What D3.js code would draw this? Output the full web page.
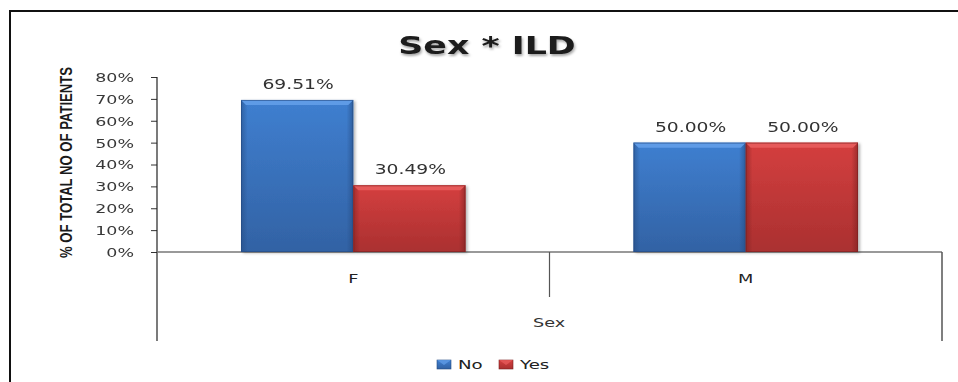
<!DOCTYPE html>
<html>
<head>
<meta charset="utf-8">
<script src="https://cdn.jsdelivr.net/npm/d3@7"></script>
<style>
  html, body { margin: 0; padding: 0; background: #fff; }
  svg { display: block; }
</style>
</head>
<body>
<svg id="chart" width="958" height="382"></svg>
<script>
// Chart data
const categories = ["F", "M"];
const seriesNames = ["No", "Yes"];
const noValues = [69.51, 50.00];
const yesValues = [30.49, 50.00];
const yTicks = [0, 10, 20, 30, 40, 50, 60, 70, 80];
const chartTitle = "Sex * ILD";
const xTitle = "Sex";
const yTitle = "% OF TOTAL NO OF PATIENTS";

const values = { No: noValues, Yes: yesValues };
const palette = {
  No:  { light: "#5f9be6", mid: "#3f7fd0", dark: "#3262a4", edge: "#244a80" },
  Yes: { light: "#e65a5a", mid: "#d43f3f", dark: "#aa3030", edge: "#7a2020" }
};

const svg = d3.select("#chart");
const W = 958, H = 382;
const sans = "'DejaVu Sans', Verdana, sans-serif";
// the whole chart is drawn with horizontally widened lettering
const STRETCH = 1.42;

// place a text element at (x, y) and widen its glyphs horizontally
function placeWide(sel, x, y, extra = "") {
  sel.attr("x", 0).attr("y", 0)
    .attr("transform", (d, i, n) => {
      const px = typeof x === "function" ? x(d, i, n) : x;
      const py = typeof y === "function" ? y(d, i, n) : y;
      return `translate(${px},${py}) scale(${STRETCH},1)${extra}`;
    });
  return sel;
}

// plot area
const plot = { left: 157, right: 942, top: 77, bottom: 252 };

const x0 = d3.scaleBand().domain(categories).range([plot.left, plot.right]).paddingInner(0).paddingOuter(0);
const groupPad = 0.214;
const x1 = d3.scaleBand().domain(seriesNames)
  .range([x0.bandwidth() * groupPad, x0.bandwidth() * (1 - groupPad)]).padding(0);
const y = d3.scaleLinear().domain([0, 80]).range([plot.bottom, plot.top]);

const defs = svg.append("defs");
seriesNames.forEach(s => {
  const c = palette[s];
  const g = defs.append("linearGradient").attr("id", "grad-" + s)
    .attr("x1", 0).attr("y1", 0).attr("x2", 0).attr("y2", 1);
  g.append("stop").attr("offset", "0%").attr("stop-color", c.mid);
  g.append("stop").attr("offset", "100%").attr("stop-color", c.dark);
  const h = defs.append("linearGradient").attr("id", "side-" + s)
    .attr("x1", 0).attr("y1", 0).attr("x2", 1).attr("y2", 0);
  h.append("stop").attr("offset", "0%").attr("stop-color", c.edge).attr("stop-opacity", 0.55);
  h.append("stop").attr("offset", "6%").attr("stop-color", c.edge).attr("stop-opacity", 0.0);
  h.append("stop").attr("offset", "94%").attr("stop-color", c.edge).attr("stop-opacity", 0.0);
  h.append("stop").attr("offset", "100%").attr("stop-color", c.edge).attr("stop-opacity", 0.6);
});
const shadow = defs.append("filter").attr("id", "barShadow")
  .attr("x", "-10%").attr("y", "-10%").attr("width", "130%").attr("height", "130%");
shadow.append("feDropShadow").attr("dx", 2).attr("dy", 1).attr("stdDeviation", 1.5)
  .attr("flood-color", "#000").attr("flood-opacity", 0.3);
const titleShadow = defs.append("filter").attr("id", "titleShadow")
  .attr("x", "-10%").attr("y", "-30%").attr("width", "120%").attr("height", "160%");
titleShadow.append("feDropShadow").attr("dx", 0.8).attr("dy", 2).attr("stdDeviation", 1.2)
  .attr("flood-color", "#000").attr("flood-opacity", 0.35);
const soft = defs.append("filter").attr("id", "soft");
soft.append("feGaussianBlur").attr("stdDeviation", 0.3);

// outer chart border (runs off the right and bottom edges)
svg.append("path")
  .attr("d", `M10,${H + 5} V11 H${W + 5}`)
  .attr("fill", "none").attr("stroke", "#111").attr("stroke-width", 2);

// title
placeWide(svg.append("text"), 487, 54)
  .attr("text-anchor", "middle")
  .attr("font-family", sans)
  .attr("font-weight", "bold").attr("font-size", 24.5)
  .attr("fill", "#1a1a1a")
  .attr("filter", "url(#titleShadow)")
  .text(chartTitle);

// y axis
const yAxis = d3.axisLeft(y).tickValues(yTicks).tickSize(6).tickPadding(17)
  .tickFormat(d => d + "%");
const gy = svg.append("g").attr("transform", `translate(${plot.left},0)`).call(yAxis);
gy.select(".domain").remove();
gy.selectAll(".tick line").attr("stroke", "#333");
placeWide(gy.selectAll(".tick text"), -23, 0)
  .attr("dy", "0.36em")
  .attr("font-family", sans)
  .attr("font-size", 12.3)
  .attr("fill", "#383838")
  .attr("filter", "url(#soft)");

// y axis line extends below the plot to bound the category rows
svg.append("line")
  .attr("x1", plot.left).attr("x2", plot.left)
  .attr("y1", plot.top).attr("y2", 341)
  .attr("stroke", "#222").attr("stroke-width", 1.2);

// y axis title
svg.append("text")
  .attr("transform", `translate(72,${(67 + 258) / 2}) scale(${STRETCH},1) rotate(-90)`)
  .attr("text-anchor", "middle")
  .attr("font-family", "'Liberation Sans Narrow', 'Liberation Sans', Arial, sans-serif")
  .attr("font-weight", "bold").attr("font-size", 11.5)
  .attr("textLength", 191).attr("lengthAdjust", "spacingAndGlyphs")
  .attr("fill", "#1a1a1a")
  .text(yTitle);

// x axis and category dividers
svg.append("line")
  .attr("x1", plot.left).attr("x2", plot.right)
  .attr("y1", plot.bottom).attr("y2", plot.bottom)
  .attr("stroke", "#777").attr("stroke-width", 1.3);
svg.append("line")
  .attr("x1", x0("M")).attr("x2", x0("M"))
  .attr("y1", plot.bottom).attr("y2", 297)
  .attr("stroke", "#555").attr("stroke-width", 1.2);
svg.append("line")
  .attr("x1", plot.right).attr("x2", plot.right)
  .attr("y1", plot.bottom).attr("y2", 341)
  .attr("stroke", "#555").attr("stroke-width", 1.5);

// category labels
placeWide(svg.selectAll("text.cat").data(categories).join("text").attr("class", "cat"),
    d => x0(d) + x0.bandwidth() / 2, 283)
  .attr("text-anchor", "middle")
  .attr("font-family", sans)
  .attr("font-size", 12.5).attr("fill", "#222")
  .text(d => d);

// x axis title
placeWide(svg.append("text"), 549, 327)
  .attr("text-anchor", "middle")
  .attr("font-family", sans)
  .attr("font-size", 12.4)
  .attr("fill", "#333")
  .text(xTitle);

// bars
const rows = [];
categories.forEach((c, i) => seriesNames.forEach(s => rows.push({ cat: c, series: s, value: values[s][i] })));

const bars = svg.append("g").selectAll("g.bar").data(rows).join("g").attr("class", "bar");
bars.append("rect")
  .attr("x", d => x0(d.cat) + x1(d.series))
  .attr("y", d => y(d.value))
  .attr("width", x1.bandwidth())
  .attr("height", d => y(0) - y(d.value))
  .attr("fill", d => `url(#grad-${d.series})`)
  .attr("filter", "url(#barShadow)");
bars.append("rect")
  .attr("x", d => x0(d.cat) + x1(d.series))
  .attr("y", d => y(d.value))
  .attr("width", x1.bandwidth())
  .attr("height", d => y(0) - y(d.value))
  .attr("fill", d => `url(#side-${d.series})`);
// bevelled top edge
bars.append("path")
  .attr("d", d => {
    const xl = x0(d.cat) + x1(d.series), xr = xl + x1.bandwidth(), yt = y(d.value);
    return `M${xl},${yt} H${xr} L${xr - 5},${yt + 5} H${xl + 5} Z`;
  })
  .attr("fill", d => palette[d.series].light);
bars.append("rect")
  .attr("x", d => x0(d.cat) + x1(d.series) + 0.5)
  .attr("y", d => y(d.value) + 0.5)
  .attr("width", x1.bandwidth() - 1)
  .attr("height", d => y(0) - y(d.value) - 1)
  .attr("fill", "none")
  .attr("stroke", d => palette[d.series].edge).attr("stroke-opacity", 0.6);

// value labels
placeWide(svg.selectAll("text.val").data(rows).join("text").attr("class", "val"),
    d => x0(d.cat) + x1(d.series) + x1.bandwidth() / 2 + 1, d => y(d.value) - 11)
  .attr("text-anchor", "middle")
  .attr("font-family", sans)
  .attr("font-size", 13.2)
  .attr("fill", "#333")
  .attr("filter", "url(#soft)")
  .text(d => d.value.toFixed(2) + "%");

// legend
const legend = svg.append("g").attr("transform", "translate(437,364)");
const legendX = { No: 0, Yes: 62 };
seriesNames.forEach(s => {
  const g = legend.append("g").attr("transform", `translate(${legendX[s]},0)`);
  g.append("rect").attr("x", 0).attr("y", -4).attr("width", 14).attr("height", 9)
    .attr("fill", `url(#grad-${s})`).attr("stroke", palette[s].edge).attr("stroke-width", 0.6);
  g.append("path").attr("d", "M0,-4 H14 L7,1 Z").attr("fill", palette[s].light).attr("opacity", 0.8);
  placeWide(g.append("text"), 21, 0)
    .attr("dy", "0.36em")
    .attr("font-family", sans)
    .attr("font-size", 12.8)
    .attr("fill", "#222").text(s);
});
</script>
</body>
</html>
